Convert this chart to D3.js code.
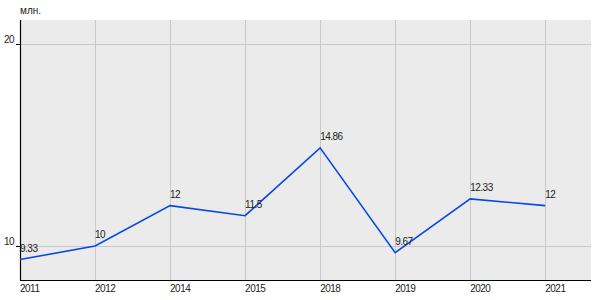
<!DOCTYPE html>
<html>
<head>
    <meta charset="utf-8">
    <script src="https://d3js.org/d3.v7.min.js"></script>
    <style>
        body { margin: 0; background: #fff; }
        text { font-family: Arial, "Liberation Sans", sans-serif; font-size: 10px; letter-spacing: -0.5px; fill: #222; }
    </style>
</head>
<body>
<script>
    const years = ["2011", "2012", "2014", "2015", "2018", "2019", "2020", "2021"];
    const values = [9.33, 10, 12, 11.5, 14.86, 9.67, 12.33, 12];
    const valueLabels = ["9.33", "10", "12", "11.5", "14.86", "9.67", "12.33", "12"];
    const yTicks = [10, 20];
    const unit = "млн.";

    const width = 600, height = 300;
    const plotLeft = 20, plotRight = 591, plotTop = 20, plotBottom = 280;

    const svg = d3.select("body").append("svg")
        .attr("width", width)
        .attr("height", height);

    // x by index, with some empty room after the last year
    const x = d3.scaleLinear().domain([0, 7.61]).range([plotLeft, plotRight]);
    const y = d3.scaleLinear().domain([8.317, 21.19]).range([plotBottom, plotTop]);

    svg.append("rect")
        .attr("x", plotLeft).attr("y", plotTop)
        .attr("width", plotRight - plotLeft).attr("height", plotBottom - plotTop)
        .attr("fill", "#ebebeb");

    // grid
    svg.append("g").selectAll("line")
        .data(years)
        .enter().append("line")
        .attr("x1", (d, i) => Math.round(x(i)) + 0.5).attr("x2", (d, i) => Math.round(x(i)) + 0.5)
        .attr("y1", plotTop).attr("y2", plotBottom)
        .attr("stroke", "#c8c8c8");

    svg.append("g").selectAll("line")
        .data(yTicks)
        .enter().append("line")
        .attr("x1", plotLeft).attr("x2", plotRight)
        .attr("y1", d => Math.round(y(d)) + 0.5).attr("y2", d => Math.round(y(d)) + 0.5)
        .attr("stroke", "#c8c8c8");

    // axes
    svg.append("line")
        .attr("x1", plotLeft + 0.5).attr("x2", plotLeft + 0.5)
        .attr("y1", plotTop).attr("y2", plotBottom + 1)
        .attr("stroke", "#000").attr("stroke-width", 1.2);
    svg.append("line")
        .attr("x1", plotLeft).attr("x2", plotRight)
        .attr("y1", plotBottom + 0.5).attr("y2", plotBottom + 0.5)
        .attr("stroke", "#000").attr("stroke-width", 1.2);

    // y ticks
    svg.append("g").selectAll("line")
        .data(yTicks)
        .enter().append("line")
        .attr("x1", plotLeft - 4).attr("x2", plotLeft)
        .attr("y1", d => Math.round(y(d)) + 0.5).attr("y2", d => Math.round(y(d)) + 0.5)
        .attr("stroke", "#000");
    svg.append("g").selectAll("text")
        .data(yTicks)
        .enter().append("text")
        .attr("x", plotLeft - 6).attr("y", d => y(d) - 1)
        .attr("text-anchor", "end")
        .text(d => d);

    // x labels
    svg.append("g").selectAll("text")
        .data(years)
        .enter().append("text")
        .attr("x", (d, i) => x(i))
        .attr("y", 292)
        .text(d => d);

    svg.append("text")
        .attr("x", plotLeft).attr("y", 14)
        .style("letter-spacing", "0px")
        .text(unit);

    // line
    const line = d3.line()
        .x((d, i) => x(i))
        .y(d => y(d));

    svg.append("path")
        .datum(values)
        .attr("d", line)
        .attr("fill", "none")
        .attr("stroke", "#0747e6")
        .attr("stroke-width", 1.6);

    svg.append("g").selectAll("text")
        .data(values)
        .enter().append("text")
        .attr("x", (d, i) => x(i))
        .attr("y", d => y(d) - 8)
        .text((d, i) => valueLabels[i]);
</script>
</body>
</html>
